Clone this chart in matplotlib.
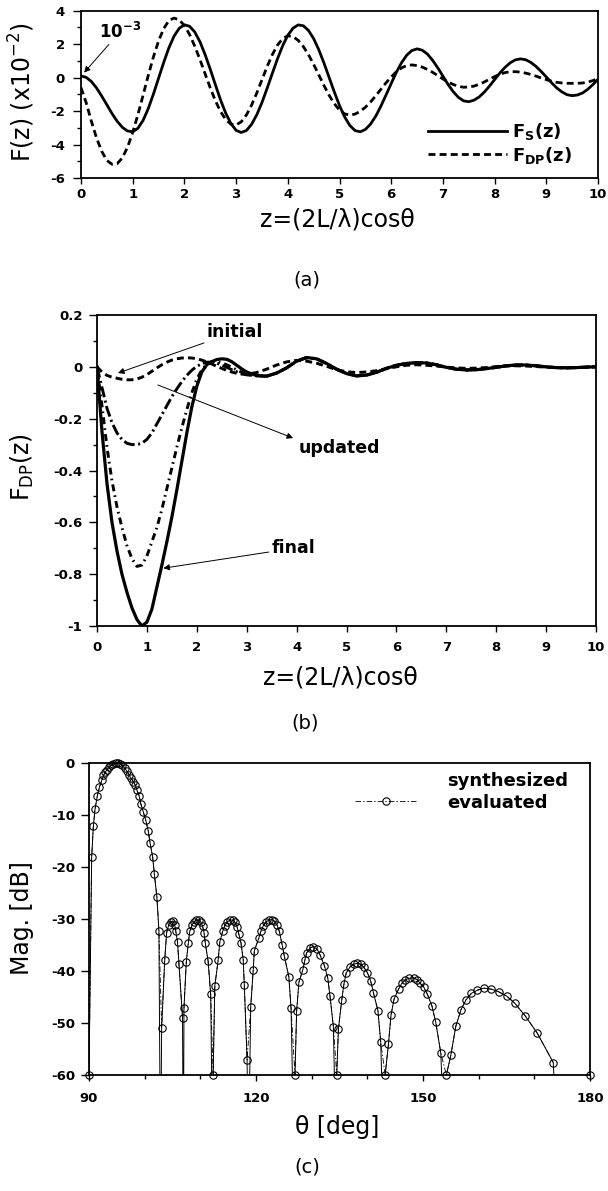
import numpy as np
import matplotlib
matplotlib.use('Agg')
import matplotlib.pyplot as plt
from matplotlib.lines import Line2D
from matplotlib.ticker import MultipleLocator
from matplotlib import font_manager as fm

plt.rcParams['font.family'] = ['DejaVu Sans']
plt.rcParams['mathtext.fontset'] = 'custom'
plt.rcParams['mathtext.rm'] = 'DejaVu Sans'
plt.rcParams['mathtext.it'] = 'DejaVu Sans'
plt.rcParams['mathtext.bf'] = 'DejaVu Sans:bold'
plt.rcParams['lines.scale_dashes'] = False
plt.rcParams['axes.unicode_minus'] = False

# ---------------- data: panel (a) ----------------
z_a = np.round(np.arange(0, 10.001, 0.1), 1)
F_S = [0.10, 0.015, -0.23, -0.615, -1.10, -1.62, -2.15, -2.61, -2.97, -3.19, -3.235,
       -3.03, -2.56, -1.86, -0.99, -0.04, 0.91, 1.78, 2.48, 2.95, 3.156,
       3.07, 2.73, 2.15, 1.38, 0.50, -0.43, -1.34, -2.13, -2.75, -3.15,
       -3.28, -3.16, -2.79, -2.22, -1.49, -0.64, 0.25, 1.12, 1.90, 2.53,
       2.95, 3.15, 3.10, 2.82, 2.33, 1.66, 0.87, 0.00, -0.86, -1.67,
       -2.35, -2.86, -3.16, -3.24, -3.10, -2.78, -2.31, -1.71, -1.04, -0.35,
       0.32, 0.89, 1.34, 1.62, 1.72, 1.64, 1.41, 1.04, 0.59, 0.09,
       -0.41, -0.84, -1.18, -1.39, -1.44, -1.35, -1.16, -0.87, -0.51, -0.12,
       0.27, 0.61, 0.88, 1.06, 1.12, 1.07, 0.91, 0.67, 0.37, 0.04,
       -0.30, -0.61, -0.85, -1.02, -1.08, -1.04, -0.92, -0.70, -0.42, -0.10]
F_DP = [-0.60, -1.50, -2.60, -3.60, -4.40, -4.95, -5.18, -5.14, -4.80, -4.16, -3.28,
        -2.22, -1.06, 0.12, 1.23, 2.19, 2.93, 3.41, 3.56, 3.45, 3.11,
        2.58, 1.88, 1.09, 0.23, -0.61, -1.39, -2.03, -2.51, -2.78, -2.83,
        -2.64, -2.23, -1.64, -0.92, -0.13, 0.66, 1.37, 1.94, 2.33, 2.50,
        2.45, 2.23, 1.86, 1.37, 0.79, 0.16, -0.47, -1.06, -1.56, -1.94,
        -2.17, -2.24, -2.18, -2.02, -1.77, -1.46, -1.09, -0.70, -0.31, 0.04,
        0.35, 0.58, 0.72, 0.76, 0.72, 0.63, 0.49, 0.32, 0.12, -0.08,
        -0.26, -0.41, -0.52, -0.575, -0.56, -0.51, -0.40, -0.26, -0.10, 0.06,
        0.20, 0.30, 0.35, 0.355, 0.33, 0.27, 0.19, 0.09, -0.02, -0.12,
        -0.21, -0.28, -0.32, -0.34, -0.34, -0.34, -0.32, -0.27, -0.18, -0.05]
a_yticks = [4, 2, 0, -2, -4, -6]
a_xticks = list(range(0, 11))

# ---------------- data: panel (b) ----------------
z_b = np.round(np.concatenate([np.arange(0, 3.001, 0.1), np.arange(3.2, 10.001, 0.2)]), 2)
fdp_initial = [0, -0.02, -0.033, -0.04, -0.044, -0.048, -0.05, -0.05, -0.047, -0.04,
               -0.03, -0.017, -0.004, 0.008, 0.018, 0.026, 0.031, 0.034, 0.035, 0.034,
               0.031, 0.026, 0.019, 0.011, 0.002, -0.006, -0.014, -0.02, -0.025, -0.028, -0.028,
               -0.022, -0.009, 0.007, 0.019, 0.025, 0.022, 0.014, 0.002, -0.011, -0.019,
               -0.022, -0.02, -0.015, -0.007, 0.0, 0.006, 0.008, 0.006, 0.003, -0.001,
               -0.004, -0.006, -0.005, -0.003, 0.001, 0.003, 0.004, 0.003, 0.001, -0.001,
               -0.003, -0.003, -0.003, -0.002, 0.0]
fdp_updated = [0, -0.08, -0.16, -0.215, -0.255, -0.28, -0.295, -0.30, -0.30, -0.295,
               -0.28, -0.255, -0.22, -0.185, -0.15, -0.115, -0.085, -0.057, -0.033, -0.013,
               0.002, 0.012, 0.018, 0.018, 0.014, 0.007, -0.002, -0.011, -0.019, -0.026, -0.031,
               -0.035, -0.036, -0.024, -0.004, 0.022, 0.035, 0.031, 0.013, -0.009, -0.026,
               -0.035, -0.032, -0.021, -0.006, 0.006, 0.013, 0.016, 0.015, 0.008, -0.002,
               -0.009, -0.012, -0.011, -0.007, -0.002, 0.004, 0.007, 0.007, 0.004, 0.0,
               -0.003, -0.004, -0.003, -0.001, 0.0]
fdp_iter = [0, -0.15, -0.31, -0.44, -0.54, -0.62, -0.69, -0.74, -0.77, -0.765,
            -0.73, -0.675, -0.62, -0.55, -0.47, -0.39, -0.31, -0.235, -0.165, -0.10,
            -0.048, -0.012, 0.01, 0.02, 0.021, 0.016, 0.008, -0.002, -0.012, -0.021, -0.028,
            -0.034, -0.036, -0.024, -0.004, 0.022, 0.036, 0.031, 0.013, -0.009, -0.026,
            -0.035, -0.032, -0.021, -0.006, 0.006, 0.013, 0.016, 0.015, 0.008, -0.002,
            -0.009, -0.012, -0.011, -0.007, -0.002, 0.004, 0.007, 0.007, 0.004, 0.0,
            -0.003, -0.004, -0.003, -0.001, 0.0]
fdp_final = [0, -0.25, -0.45, -0.60, -0.71, -0.80, -0.87, -0.93, -0.975, -1.0,
             -0.985, -0.935, -0.85, -0.765, -0.675, -0.58, -0.475, -0.365, -0.255, -0.155,
             -0.075, -0.02, 0.008, 0.02, 0.028, 0.031, 0.029, 0.02, 0.006, -0.008, -0.02,
             -0.034, -0.036, -0.024, -0.004, 0.022, 0.036, 0.031, 0.013, -0.009, -0.026,
             -0.035, -0.032, -0.021, -0.006, 0.006, 0.013, 0.016, 0.015, 0.008, -0.002,
             -0.009, -0.012, -0.011, -0.007, -0.002, 0.004, 0.007, 0.007, 0.004, 0.0,
             -0.003, -0.004, -0.003, -0.001, 0.0]
b_yticks = [0.2, 0, -0.2, -0.4, -0.6, -0.8, -1]
b_ylabels = ['0.2', '0', '-0.2', '-0.4', '-0.6', '-0.8', '-1']

# ---------------- data: panel (c) ----------------
theta_eval = [90.0, 90.48, 90.78, 91.08, 91.5, 91.86, 92.3, 92.6, 92.9, 93.2,
              93.6, 94.0, 94.4, 94.8, 95.2, 95.6, 96.0, 96.4, 96.8, 97.2,
              97.5, 97.96, 98.3, 98.6, 99.0, 99.3, 99.75, 100.2, 100.65, 100.96,
              101.44, 101.74, 102.2, 102.56, 103.05, 103.6, 103.95, 104.3, 104.7, 105.1,
              105.4, 105.6, 105.9, 106.17, 106.8, 107.06, 107.48, 107.84, 108.1, 108.5,
              108.9, 109.3, 109.7, 110.1, 110.4, 110.66, 110.9, 111.4, 111.86, 112.3,
              112.6, 113.2, 113.5, 114.0, 114.4, 114.8, 115.3, 115.8, 116.2, 116.6,
              116.9, 117.3, 117.7, 117.9, 118.4, 119.05, 119.5, 119.7, 120.5, 120.9,
              121.3, 121.8, 122.3, 122.8, 123.3, 123.8, 124.2, 124.7, 125.1, 125.9,
              126.3, 127.0, 127.3, 127.7, 128.4, 128.8, 129.1, 129.7, 130.3, 131.0,
              131.5, 132.3, 132.9, 133.3, 133.9, 134.5, 134.8, 135.4, 135.8, 136.2,
              136.9, 137.6, 138.2, 138.8, 139.4, 140.0, 140.6, 141.1, 141.9, 142.4,
              143.2, 143.8, 144.25, 144.8, 145.6, 146.2, 146.8, 147.5, 148.3, 149.0,
              149.5, 150.1, 150.8, 151.6, 152.3, 153.2, 154.2, 155.0, 155.9, 156.8,
              157.7, 158.7, 159.75, 160.95, 162.3, 163.6, 165.0, 166.5, 168.4, 170.5,
              173.4, 180.0]
mag_eval = [-60, -18.1, -12.2, -8.9, -6.3, -4.7, -3.3, -2.4, -1.8, -1.3,
            -0.85, -0.45, -0.18, -0.03, -0.02, -0.15, -0.45, -0.95, -1.6, -2.3,
            -2.9, -3.6, -4.2, -5.2, -6.3, -7.8, -9.4, -11.0, -13.1, -15.3,
            -18.1, -21.4, -25.8, -32.3, -50.9, -37.9, -32.6, -31.2, -30.5, -30.4,
            -31.2, -32.4, -34.4, -38.7, -49.0, -47.2, -38.2, -34.6, -32.4, -31.2,
            -30.5, -30.2, -30.2, -30.6, -31.4, -32.6, -34.7, -38.1, -44.5, -60,
            -42.9, -37.9, -34.4, -32.4, -31.3, -30.6, -30.2, -30.2, -30.6, -31.5,
            -32.8, -34.6, -37.8, -42.7, -57.1, -46.9, -39.8, -36.1, -33.7, -32.3,
            -31.3, -30.6, -30.2, -30.1, -30.4, -31.2, -32.4, -35.0, -37.2, -41.1,
            -47.2, -60, -47.7, -42.2, -39.8, -37.8, -36.5, -35.6, -35.3, -35.8,
            -36.9, -39.0, -41.4, -44.9, -50.7, -60, -51.2, -45.6, -42.5, -40.4,
            -39.2, -38.7, -38.5, -38.7, -39.3, -40.3, -41.9, -44.2, -47.6, -53.6,
            -60, -54.0, -48.5, -45.4, -43.5, -42.4, -41.7, -41.4, -41.3, -41.7,
            -42.4, -43.0, -44.5, -46.7, -49.9, -55.8, -60, -56.2, -50.6, -47.5,
            -45.6, -44.3, -43.7, -43.3, -43.5, -44.0, -44.8, -46.2, -48.7, -51.9,
            -57.6, -60]
theta_null = [102.85, 106.95, 112.25, 118.6, 126.9, 134.45, 143.1, 154.1, 174.4]
mag_null = [-80, -80, -80, -80, -80, -80, -80, -80, -80]
c_xticks = [90, 120, 150, 180]
c_yticks = [0, -10, -20, -30, -40, -50, -60]

# ---------------- figure ----------------
W, H = 608, 1191
fig = plt.figure(figsize=(W / 100, H / 100), dpi=100)


def pick(fams, default):
    for f in fams:
        try:
            fm.findfont(fm.FontProperties(family=f), fallback_to_default=False)
            return f
        except Exception:
            pass
    return default


narrow = pick(['Liberation Sans Narrow', 'Arial Narrow'], 'DejaVu Sans')


def add_axes_px(box):
    l, t, r, b = box
    return fig.add_axes([l / W, 1 - b / H, (r - l) / W, (b - t) / H])


def to_ax(box, x, y):
    l, t, r, b = box
    return (x - l) / (r - l), (b - y) / (b - t)


def style(ax, xpad, ypad, xlen=4.0, ylen=5.5):
    for s in ax.spines.values():
        s.set_linewidth(1.3)
    ax.tick_params(which='both', direction='out', top=False, right=False, width=1.0,
                   labelsize=9.5)
    ax.tick_params(axis='x', which='major', length=xlen, pad=xpad)
    ax.tick_params(axis='y', which='major', length=ylen, pad=ypad)
    ax.tick_params(which='minor', length=3.0)
    for lab in ax.get_xticklabels() + ax.get_yticklabels():
        lab.set_fontweight('bold')


def set_labels(ax, box, xl, xpos, yl, ypos, size=17):
    ax.set_xlabel(xl, fontsize=size)
    ax.set_ylabel(yl, fontsize=size)
    ax.xaxis.label.set_va('center')
    ax.yaxis.label.set_va('center')
    ax.xaxis.set_label_coords(*to_ax(box, *xpos))
    ax.yaxis.set_label_coords(*to_ax(box, *ypos))


arrow = dict(arrowstyle='-|>', color='black', lw=0.7, mutation_scale=9,
             shrinkA=0, shrinkB=0)

# ---- panel (a)
box_a = (81, 10.7, 598, 178)
ax = add_axes_px(box_a)
ax.plot(z_a, F_S, color='black', lw=2.0, label='F$_{\\mathbf{S}}$(z)')
ax.plot(z_a, F_DP, color='black', lw=2.0, linestyle=(0, (5, 3)),
        label='F$_{\\mathbf{DP}}$(z)')
ax.set_xlim(0, 10)
ax.set_ylim(-6, 4)
ax.set_xticks(a_xticks)
ax.set_yticks(a_yticks)
ax.yaxis.set_minor_locator(MultipleLocator(1))
style(ax, xpad=3, ypad=6)
set_labels(ax, box_a, 'z=(2L/λ)cosθ', (337, 220), 'F(z) (x10$^{-2}$)', (22, 92))
ax.annotate('10$^{\\mathbf{-3}}$', xy=(0.06, 0.3), xytext=(0.35, 2.75),
            fontsize=12, fontweight='bold', ha='left', va='center',
            arrowprops=arrow)
leg = ax.legend(loc='upper left', bbox_to_anchor=to_ax(box_a, 428, 121),
                frameon=False, borderpad=0, borderaxespad=0, handlelength=4.4,
                handletextpad=0.25, labelspacing=0.15,
                prop=dict(weight='bold', size=13))
fig.text(307 / W, 1 - 280 / H, '(a)', ha='center', va='center',
         fontfamily=narrow, fontsize=14)

# ---- panel (b)
box_b = (97, 315, 596, 626)
ax = add_axes_px(box_b)
ax.plot(z_b, fdp_final, color='black', lw=2.3)
ax.plot(z_b, fdp_iter, color='black', lw=2.1, linestyle=(0, (5, 3, 1.2, 3)))
ax.plot(z_b, fdp_updated, color='black', lw=2.1, linestyle=(0, (8, 2.5, 1.5, 2.5)))
ax.plot(z_b, fdp_initial, color='black', lw=2.1, linestyle=(0, (5, 3)))
ax.set_xlim(0, 10)
ax.set_ylim(-1, 0.2)
ax.set_xticks(a_xticks)
ax.set_yticks(b_yticks)
ax.set_yticklabels(b_ylabels)
ax.yaxis.set_minor_locator(MultipleLocator(0.1))
style(ax, xpad=7, ypad=5)
set_labels(ax, box_b, 'z=(2L/λ)cosθ', (340, 677), 'F$_{DP}$(z)', (22, 467))
ax.annotate('initial', xy=(0.42, -0.024), xytext=(2.2, 0.134), fontsize=12.5,
            fontweight='bold', ha='left', va='center', arrowprops=arrow)
ax.annotate('', xy=(3.93, -0.275), xytext=(1.22, -0.07), arrowprops=arrow)
ax.text(4.05, -0.314, 'updated', fontsize=12.5, fontweight='bold', ha='left', va='center')
ax.annotate('final', xy=(1.33, -0.777), xytext=(3.5, -0.70), fontsize=12.5,
            fontweight='bold', ha='left', va='center', arrowprops=arrow)
fig.text(305 / W, 1 - 723 / H, '(b)', ha='center', va='center',
         fontfamily=narrow, fontsize=14)

# ---- panel (c)
box_c = (89, 763, 590, 1075)
ax = add_axes_px(box_c)
th_syn = np.array(theta_eval + theta_null)
mg_syn = np.array(mag_eval + mag_null)
order = np.argsort(th_syn, kind='stable')
keep = th_syn[order] < 179
ax.plot(th_syn[order][keep], mg_syn[order][keep], color='black', lw=0.7, zorder=2)
ax.plot(theta_eval[:-1], mag_eval[:-1], color='black', lw=0.6,
        linestyle=(0, (4, 1.5, 1, 1.5)), zorder=2)
ax.plot(theta_eval, mag_eval, linestyle='None', marker='o', ms=5.3, mfc='none',
        mec='black', mew=0.8, clip_on=False, zorder=3)
ax.set_xlim(90, 180)
ax.set_ylim(-60, 0)
ax.set_xticks(c_xticks)
ax.set_yticks(c_yticks)
ax.xaxis.set_minor_locator(MultipleLocator(10))
style(ax, xpad=8, ypad=4, ylen=6)
set_labels(ax, box_c, 'θ [deg]', (337, 1127), 'Mag. [dB]', (22, 918))
handles = [Line2D([], [], linestyle='None', color='black'),
           Line2D([], [], color='black', lw=0.6, linestyle=(0, (4, 1.5, 1, 1.5)),
                  marker='o', ms=5.3, mfc='none', mec='black', mew=0.8)]
ax.legend(handles, ['synthesized', 'evaluated'], loc='upper left',
          bbox_to_anchor=to_ax(box_c, 355, 772), frameon=False, borderpad=0,
          borderaxespad=0, handlelength=3.4, handletextpad=1.7, labelspacing=0.2,
          prop=dict(weight='bold', size=13))
fig.text(307 / W, 1 - 1167 / H, '(c)', ha='center', va='center',
         fontfamily=narrow, fontsize=14)

fig.savefig('out.png', dpi=100, facecolor='white')
